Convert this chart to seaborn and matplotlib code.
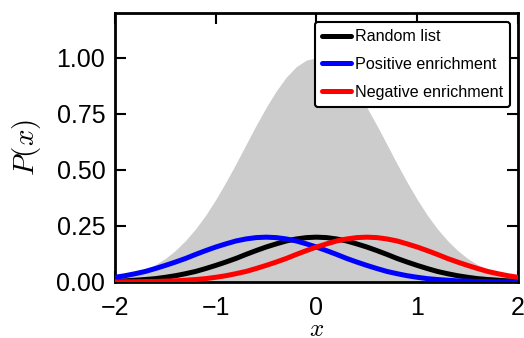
import matplotlib
matplotlib.use("Agg")
import matplotlib.pyplot as plt
import seaborn as sns
import pandas as pd

x_vals = [round(-2 + 0.1 * i, 1) for i in range(41)]

background = [0.018, 0.027, 0.039, 0.056, 0.077, 0.105, 0.141, 0.185, 0.237, 0.298,
              0.368, 0.445, 0.527, 0.613, 0.698, 0.779, 0.852, 0.914, 0.961, 0.990,
              1.000,
              0.990, 0.961, 0.914, 0.852, 0.779, 0.698, 0.613, 0.527, 0.445, 0.368,
              0.298, 0.237, 0.185, 0.141, 0.105, 0.077, 0.056, 0.039, 0.027, 0.018]

random_list = [0.004, 0.005, 0.008, 0.011, 0.015, 0.021, 0.028, 0.037, 0.047, 0.060,
               0.074, 0.089, 0.105, 0.123, 0.140, 0.156, 0.170, 0.183, 0.192, 0.198,
               0.200,
               0.198, 0.192, 0.183, 0.170, 0.156, 0.140, 0.123, 0.105, 0.089, 0.074,
               0.060, 0.047, 0.037, 0.028, 0.021, 0.015, 0.011, 0.008, 0.005, 0.004]

positive = [0.021, 0.028, 0.037, 0.047, 0.060, 0.074, 0.089, 0.105, 0.123, 0.140,
            0.156, 0.170, 0.183, 0.192, 0.198, 0.200, 0.198, 0.192, 0.183, 0.170,
            0.156, 0.140, 0.123, 0.105, 0.089, 0.074, 0.060, 0.047, 0.037, 0.028,
            0.021, 0.015, 0.011, 0.008, 0.005, 0.004, 0.002, 0.002, 0.001, 0.001, 0.000]

negative = list(reversed(positive))

series_names = ["Random list", "Positive enrichment", "Negative enrichment"]
series_colors = ["black", "blue", "red"]

x_ticks = [-2, -1, 0, 1, 2]
y_ticks = [0.0, 0.25, 0.5, 0.75, 1.0]

sns.set_style("ticks")
plt.rcParams["font.family"] = ["Liberation Sans", "DejaVu Sans"]
plt.rcParams["mathtext.fontset"] = "cm"
plt.rcParams["axes.unicode_minus"] = True
plt.rcParams["text.color"] = "black"
plt.rcParams["axes.labelcolor"] = "black"
plt.rcParams["xtick.color"] = "black"
plt.rcParams["ytick.color"] = "black"

df = pd.DataFrame({
    "x": x_vals * 3,
    "y": random_list + positive + negative,
    "series": sum([[n] * len(x_vals) for n in series_names], []),
})

fig = plt.figure(figsize=(5.24, 3.38), dpi=100)
ax = fig.add_axes([0.2195, 0.1657, 0.769, 0.7958])

ax.fill_between(x_vals, background, 0, color="#cccccc", linewidth=0, zorder=1)
sns.lineplot(data=df, x="x", y="y", hue="series", hue_order=series_names,
             palette=series_colors, linewidth=3.6, ax=ax, zorder=3)

ax.set_xlim(-2, 2)
ax.set_ylim(0, 1.2)
ax.set_xticks(x_ticks)
ax.set_xticklabels(["\u22122", "\u22121", "0", "1", "2"])
ax.set_yticks(y_ticks)
ax.set_yticklabels(["0.00", "0.25", "0.50", "0.75", "1.00"])
ax.tick_params(direction="in", length=8, width=1.5, labelsize=18,
               top=True, right=True, colors="black")
ax.tick_params(axis="x", pad=10)
ax.tick_params(axis="y", pad=7)
for s in ax.spines.values():
    s.set_linewidth(2)
    s.set_color("black")

ax.set_xlabel("$x$", fontsize=18, color="black")
ax.xaxis.set_label_coords(0.5, -0.13)
ax.set_ylabel("$P(x)$", fontsize=21, labelpad=10, color="black")

leg = ax.legend(loc="upper right", fontsize=11.6, frameon=True, fancybox=True,
                handlelength=1.8, handletextpad=0.2, borderpad=0.45,
                labelspacing=0.8, borderaxespad=0,
                bbox_to_anchor=(0.980, 0.967))
leg.get_frame().set_edgecolor("black")
leg.get_frame().set_linewidth(1.5)
leg.get_frame().set_alpha(1)
for t in leg.get_texts():
    t.set_color("black")
for h in leg.get_lines():
    h.set_linewidth(3.6)

fig.savefig("out.png", dpi=100)
